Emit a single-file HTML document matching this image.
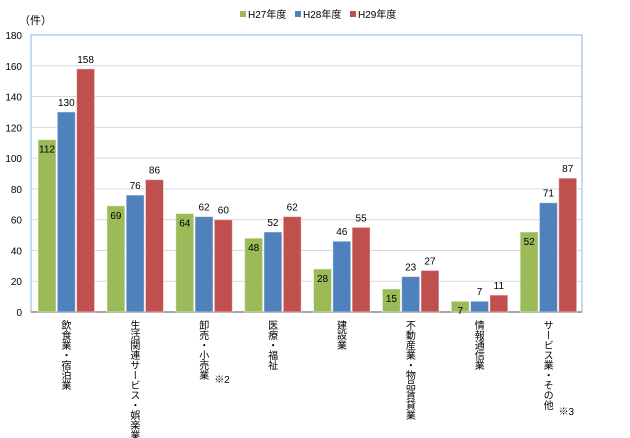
<!DOCTYPE html>
<html><head><meta charset="utf-8"><style>
body{margin:0;background:#fff;}
svg{display:block;font-family:"Liberation Sans","Noto Sans CJK JP",sans-serif;}
</style></head><body>
<svg id="chart" width="630" height="438" viewBox="0 0 630 438" xmlns="http://www.w3.org/2000/svg">
<g id="grid"></g>
<g id="bars"></g>
<g id="labels"></g>
<g id="yticks"></g>
<g id="xcats"></g>
<text x="19" y="24" font-size="11" fill="#000">（件）</text>
<g id="legend"></g>
</svg>
<script>
const categories=["飲食業・宿泊業","生活関連サービス・娯楽業","卸売・小売業","医療・福祉","建設業","不動産業・物品賃貸業","情報通信業","サービス業・その他"];
const notes=["","※1","※2","","","","","※3"];
const seriesNames=["H27年度","H28年度","H29年度"];
const h27=[112,69,64,48,28,15,7,52];
const h28=[130,76,62,52,46,23,7,71];
const h29=[158,86,60,62,55,27,11,87];
const yTicks=[0,20,40,60,80,100,120,140,160,180];
const colors=["#9BBB59","#4F81BD","#C0504D"];
const series=[h27,h28,h29];
const NS="http://www.w3.org/2000/svg";
const L=31,R=582,T=35,B=312,yMax=180;
const cw=(R-L)/categories.length;
function y(v){return B-(v/yMax)*(B-T);}
function x(i,s){return L+i*cw+7+s*19.3;}
function mk(tag,attrs,parent){const e=document.createElementNS(NS,tag);for(const k in attrs)e.setAttribute(k,attrs[k]);parent.appendChild(e);return e;}
const grid=document.getElementById('grid'),bars=document.getElementById('bars'),labels=document.getElementById('labels'),yt=document.getElementById('yticks'),xc=document.getElementById('xcats'),lg=document.getElementById('legend');
yTicks.forEach(t=>{
  if(t>0&&t<yMax){const g=mk('line',{x1:L,x2:R,y1:y(t),y2:y(t),stroke:'#d9d9d9','stroke-width':1},grid);
  
  }
  const tx=mk('text',{x:22,y:y(t)+4,'font-size':10,'text-anchor':'end',fill:'#000'},yt);
  tx.textContent=t;
  
  
});
const frame=mk('rect',{x:L,y:T,width:R-L,height:B-T,fill:'none',stroke:'#8eb4e3','stroke-width':1},grid);


const ax=mk('line',{x1:L,x2:R,y1:B,y2:B,stroke:'#a6a6a6','stroke-width':2},grid);


categories.forEach((c,i)=>{
  series.forEach((arr,s)=>{
    const v=arr[i];
    const r=mk('rect',{x:x(i,s),y:y(v),width:18,height:B-y(v),fill:colors[s],stroke:'rgba(255,255,255,0.5)','stroke-width':1},bars);
    
    
    const ty=s===0?y(v)+13:y(v)-6;
    const t=mk('text',{x:x(i,s)+9,y:ty,'font-size':10,'text-anchor':'middle',fill:'#000'},labels);
    t.textContent=v;
    
    
  });
  const cx=L+(i+0.5)*cw-1;
  const t=mk('text',{x:cx,y:320,'font-size':10,fill:'#000',style:'writing-mode:vertical-rl;glyph-orientation-vertical:0'},xc);
  t.textContent=c;
  
  
  if(notes[i]){
    const n=mk('text',{x:cx+12,y:320+c.length*10.8-2,'font-size':10,fill:'#000'},xc);
    n.textContent=notes[i];
    
    
  }
});
seriesNames.forEach((n,s)=>{
  const lx=240+s*55;
  const r=mk('rect',{x:lx,y:11,width:6,height:6,fill:colors[s]},lg);
  
  
  const t=mk('text',{x:lx+8,y:18,'font-size':10,fill:'#000'},lg);
  t.textContent=n;
  
  
});
</script>
</body></html>
